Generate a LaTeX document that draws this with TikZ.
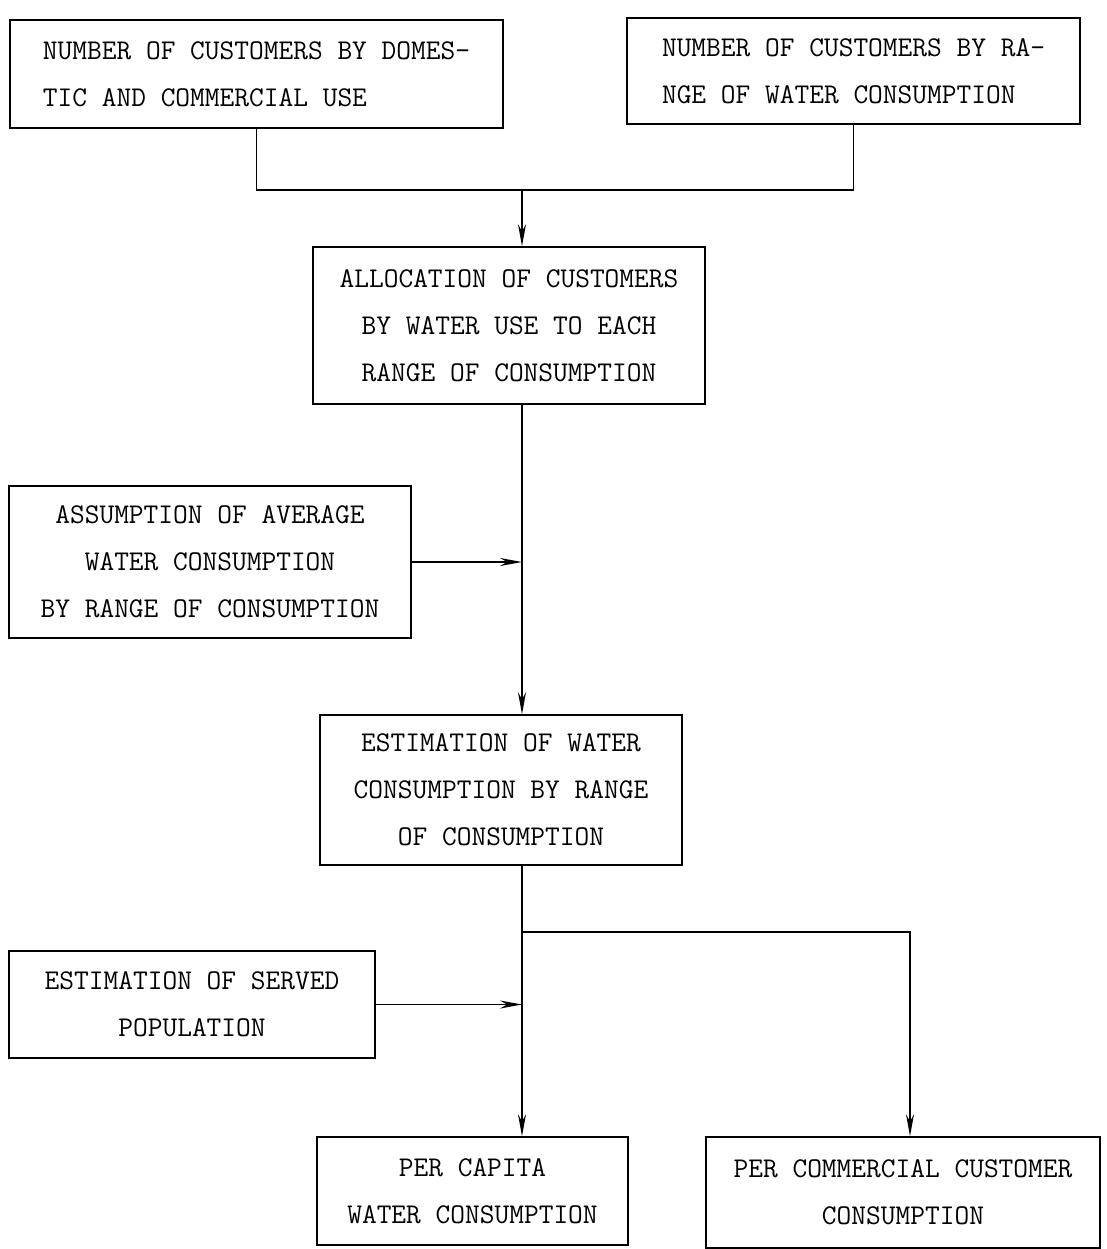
\documentclass[tikz,border=0pt]{standalone}
\usepackage{tikz}
\usetikzlibrary{arrows.meta}

\begin{document}
\begin{tikzpicture}[
    x=0.5pt, y=-0.5pt,
    block/.style={draw, line width=0.8pt, inner sep=0pt, align=center,
                  font=\ttfamily\fontsize{14.3pt}{23.5pt}\selectfont},
    arrow/.style={-{Stealth[length=11pt,width=4pt]}, line width=0.8pt},
    link/.style={line width=0.8pt}
  ]
    \useasboundingbox (0,0) rectangle (1107,1249);

    \node[block, align=left, minimum width=246.5pt, minimum height=54pt] (custuse) at (256.5,74) {
      NUMBER OF CUSTOMERS BY DOMES-\\
      TIC AND COMMERCIAL USE
    };
    \node[block, align=left, minimum width=226.5pt, minimum height=53pt] (custrange) at (853.5,71) {
      NUMBER OF CUSTOMERS BY RA-\\
      NGE OF WATER CONSUMPTION
    };
    \node[block, minimum width=196pt, minimum height=78.5pt] (alloc) at (509,325.5) {
      ALLOCATION OF CUSTOMERS\\
      BY WATER USE TO EACH\\
      RANGE OF CONSUMPTION
    };
    \node[block, minimum width=201pt, minimum height=76pt] (avg) at (210,562) {
      ASSUMPTION OF AVERAGE\\
      WATER CONSUMPTION\\
      BY RANGE OF CONSUMPTION
    };
    \node[block, minimum width=181pt, minimum height=75pt] (estcons) at (501,790) {
      ESTIMATION OF WATER\\
      CONSUMPTION BY RANGE\\
      OF CONSUMPTION
    };
    \node[block, minimum width=183pt, minimum height=53.5pt] (served) at (192,1004.5) {
      ESTIMATION OF SERVED\\
      POPULATION
    };
    \node[block, minimum width=155.5pt, minimum height=54pt] (percap) at (472.5,1191) {
      PER CAPITA\\
      WATER CONSUMPTION
    };
    \node[block, minimum width=197pt, minimum height=55.5pt] (percomm) at (903,1192.5) {
      PER COMMERCIAL CUSTOMER\\
      CONSUMPTION
    };

    \coordinate (join) at (522,190);
    \coordinate (split) at (522,932);

    \draw[link] (custuse.south) |- (join) -| (custrange.south);
    \draw[arrow] (join) -- (join |- alloc.north);
    \draw[arrow] (alloc.south -| join) -- (estcons.north -| join);
    \draw[arrow] (avg.east) -- (avg.east -| join);
    \draw[arrow] (estcons.south -| join) -- (percap.north -| join);
    \draw[arrow] (served.east) -- (served.east -| join);
    \draw[arrow] (split) -| ([xshift=3.5pt]percomm.north);
  \end{tikzpicture}
\end{document}
